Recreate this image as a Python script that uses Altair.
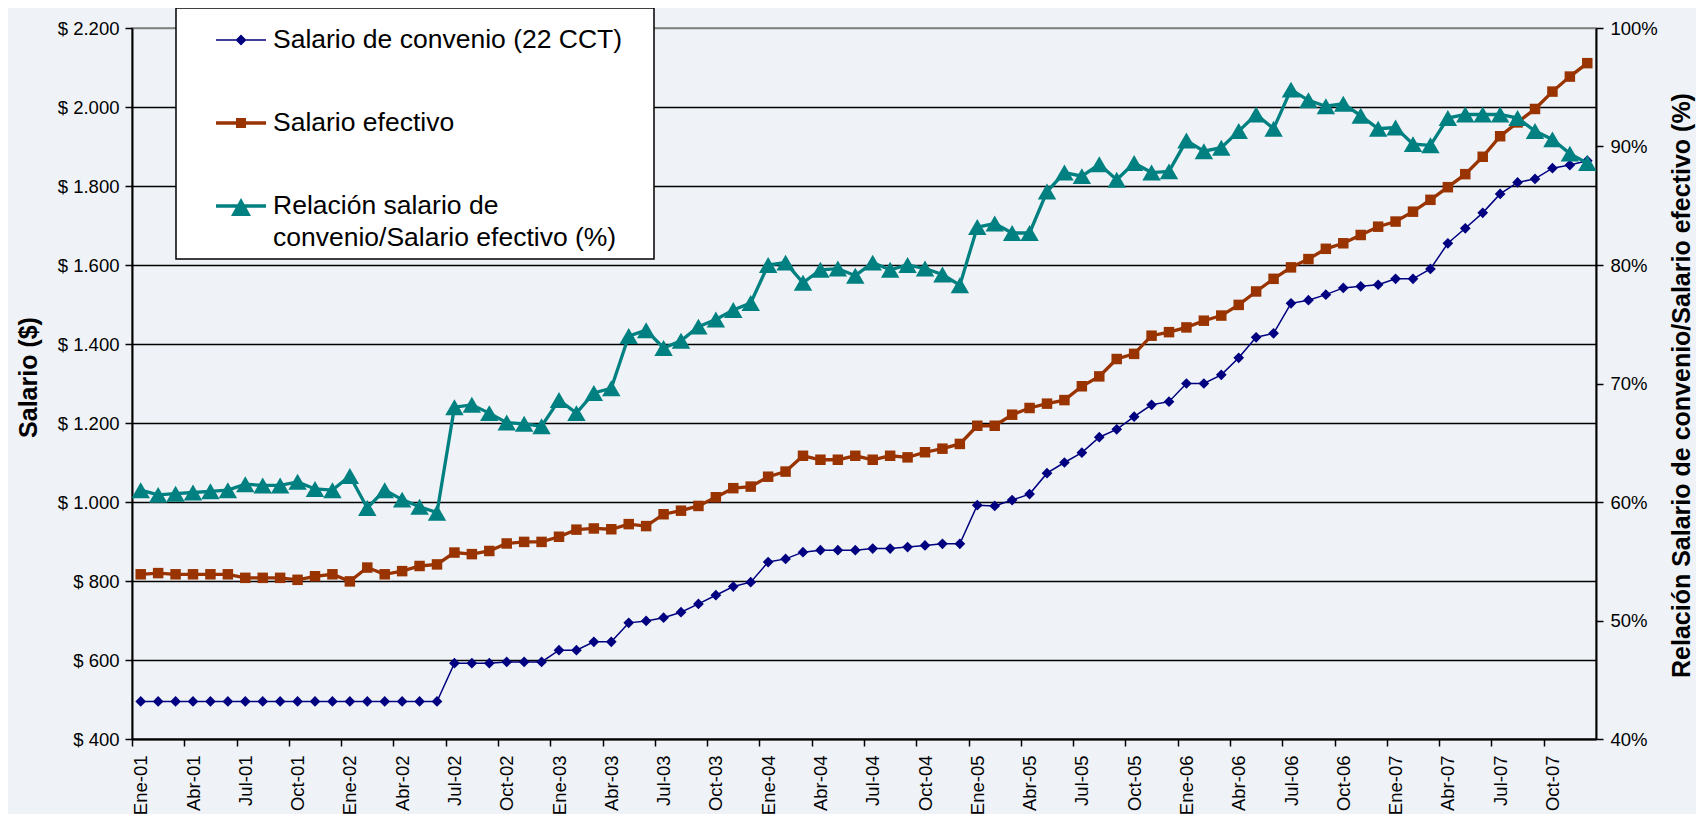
import altair as alt
import pandas as pd

# ---------------- data ----------------
month_names = ["Ene", "Feb", "Mar", "Abr", "May", "Jun",
               "Jul", "Ago", "Sep", "Oct", "Nov", "Dic"]
years = ["01", "02", "03", "04", "05", "06", "07"]
months = [f"{m}-{y}" for y in years for m in month_names]
tick_labels = [f"{m}-{y}" for y in years for m in ["Ene", "Abr", "Jul", "Oct"]]

salario_convenio = [
    495, 495, 495, 495, 495, 495, 495, 495, 495, 495, 495, 495,
    495, 495, 495, 495, 495, 495, 592, 592, 592, 595, 595, 595,
    625, 625, 646, 646, 694, 699, 707, 721, 742, 764, 786, 797,
    848, 856, 873, 878, 878, 878, 882, 882, 886, 890, 894, 894,
    992, 990, 1005, 1020, 1073, 1100, 1125, 1164, 1184, 1216, 1246, 1254,
    1300, 1300, 1322, 1365, 1417, 1427, 1503, 1511, 1525, 1542, 1546, 1550,
    1565, 1565, 1590, 1655, 1693, 1732, 1780, 1809, 1818, 1845, 1853, 1864,
]
salario_efectivo = [
    817, 820, 817, 817, 817, 817, 808, 808, 808, 803, 812, 817,
    799, 834, 817, 825, 838, 842, 872, 868, 876, 895, 899, 899,
    912, 930, 933, 931, 944, 939, 969, 978, 990, 1012, 1035, 1039,
    1064, 1077, 1117, 1107, 1107, 1117, 1107, 1117, 1113, 1126, 1135, 1147,
    1193, 1193, 1221, 1238, 1249, 1258, 1293, 1318, 1362, 1375, 1421, 1430,
    1442, 1459, 1472, 1499, 1533, 1565, 1594, 1615, 1641, 1655, 1676, 1697,
    1710, 1735, 1765, 1797, 1830, 1874, 1926, 1961, 1995, 2039, 2077, 2111,
]
relacion = [
    61.0, 60.6, 60.7, 60.8, 60.9, 61.0, 61.5, 61.4, 61.4, 61.7, 61.1, 61.0,
    62.2, 59.5, 61.0, 60.2, 59.6, 59.1, 68.0, 68.2, 67.5, 66.7, 66.6, 66.4,
    68.6, 67.5, 69.2, 69.6, 74.0, 74.5, 73.0, 73.6, 74.8, 75.4, 76.2, 76.8,
    80.0, 80.2, 78.5, 79.6, 79.7, 79.1, 80.2, 79.6, 80.0, 79.7, 79.2, 78.3,
    83.2, 83.5, 82.7, 82.7, 86.2, 87.8, 87.5, 88.5, 87.2, 88.6, 87.8, 87.9,
    90.5, 89.6, 89.9, 91.3, 92.7, 91.5, 94.8, 93.9, 93.4, 93.6, 92.6, 91.5,
    91.6, 90.2, 90.1, 92.4, 92.7, 92.7, 92.7, 92.4, 91.3, 90.6, 89.4, 88.6,
]

series_names = [
    "Salario de convenio (22 CCT)",
    "Salario efectivo",
    "Relación salario de convenio/Salario efectivo (%)",
]
series_colors = ["#000080", "#993300", "#008080"]

df = pd.DataFrame({
    "idx": list(range(len(months))),
    "mes": months,
    "conv": salario_convenio,
    "efec": salario_efectivo,
    "rel": relacion,
})
legend_df = pd.DataFrame({"serie": series_names})

# ---------------- styling ----------------
FONT = "Liberation Sans"
W, H = 1464, 711
band = W / len(months)

x_enc = alt.X(
    "idx:Q",
    scale=alt.Scale(domain=[-0.5, len(months) - 0.5], nice=False, zero=False),
    axis=alt.Axis(
        values=[k * 3 - 0.5 for k in range(len(tick_labels))],
        labelExpr=f"{tick_labels}[round((datum.value + 0.5) / 3)]",
        labelAngle=270,
        labelOffset=band / 2,
        labelFontSize=18.5,
        labelColor="#000000",
        labelPadding=9,
        labelFlush=False,
        labelOverlap=False,
        tickSize=7,
        tickWidth=1.5,
        tickColor="#000000",
        domainColor="#000000",
        domainWidth=2,
        grid=False,
        title=None,
    ),
)

left_axis = alt.Axis(
    values=list(range(400, 2201, 200)),
    labelExpr="'$ ' + replace(format(datum.value, ','), ',', '.')",
    labelFontSize=18.5,
    labelColor="#000000",
    labelPadding=6,
    tickSize=7,
    tickWidth=1.5,
    tickColor="#000000",
    domainColor="#000000",
    domainWidth=2,
    grid=True,
    gridColor={"condition": {"test": "datum.value >= 2200", "value": "#808080"},
               "value": "#000000"},
    gridWidth=1.4,
    title="Salario ($)",
    titleFontSize=25,
    titleFontWeight="bold",
    titleColor="#000000",
    titleAngle=270,
    titleX=-104,
    titleY=349,
    titleAlign="center",
    titleBaseline="middle",
)
left_scale = alt.Scale(domain=[400, 2200], nice=False, zero=False)

right_axis = alt.Axis(
    orient="right",
    values=list(range(40, 101, 10)),
    labelExpr="datum.value + '%'",
    labelFontSize=18.5,
    labelColor="#000000",
    labelPadding=7,
    tickSize=7,
    tickWidth=1.5,
    tickColor="#000000",
    domainColor="#000000",
    domainWidth=2,
    grid=False,
    title="Relación Salario de convenio/Salario efectivo (%)",
    titleFontSize=25,
    titleFontWeight="bold",
    titleColor="#000000",
    titleAngle=270,
    titleX=85,
    titleY=357,
    titleAlign="center",
    titleBaseline="middle",
)
right_scale = alt.Scale(domain=[40, 100], nice=False, zero=False)

base = alt.Chart(df)

line_conv = base.mark_line(color=series_colors[0], strokeWidth=1.5).encode(
    x=x_enc, y=alt.Y("conv:Q", scale=left_scale, axis=left_axis))
pts_conv = base.mark_point(filled=True, shape="diamond", size=115, opacity=1,
                           color=series_colors[0]).encode(
    x=x_enc, y=alt.Y("conv:Q", scale=left_scale, axis=left_axis))
line_efec = base.mark_line(color=series_colors[1], strokeWidth=3.3).encode(
    x=x_enc, y=alt.Y("efec:Q", scale=left_scale, axis=left_axis))
pts_efec = base.mark_point(filled=True, shape="square", size=110, opacity=1,
                           color=series_colors[1]).encode(
    x=x_enc, y=alt.Y("efec:Q", scale=left_scale, axis=left_axis))

legend_shapes = [
    "M-1,-0.03H1V0.03H-1Z M0,-0.22L0.22,0L0,0.22L-0.22,0Z",
    "M-1,-0.066H1V0.066H-1Z M-0.2,-0.2H0.2V0.2H-0.2Z",
    "M-1,-0.066H1V0.066H-1Z M0,-0.32L0.4,0.4H-0.4Z",
]
multi = ("datum.label == '" + series_names[2] + "' ? "
         "['Relación salario de', 'convenio/Salario efectivo (%)'] : datum.label")

legend_layer = alt.Chart(legend_df).mark_point(
    filled=True, strokeWidth=0, opacity=1
).encode(
    color=alt.Color("serie:N",
                    scale=alt.Scale(domain=series_names, range=series_colors),
                    legend=alt.Legend(
                        title="\u00a0", titleOrient="right", titlePadding=25,
                        orient="none", legendX=44, legendY=-20,
                        fillColor="#ffffff", strokeColor="#000000",
                        padding=7, symbolOffset=33, labelOffset=7,
                        symbolSize=2500, symbolStrokeWidth=0, symbolOpacity=1,
                        labelFontSize=26.5, labelColor="#000000", labelLimit=700,
                        labelExpr=multi, rowPadding=44, labelFont=FONT,
                    )),
    shape=alt.Shape("serie:N",
                    scale=alt.Scale(domain=series_names, range=legend_shapes)),
).transform_filter("false")

line_rel = base.mark_line(color=series_colors[2], strokeWidth=3.3).encode(
    x=x_enc, y=alt.Y("rel:Q", scale=right_scale, axis=right_axis))
pts_rel = base.mark_point(filled=True, shape="triangle-up", size=340, opacity=1,
                          color=series_colors[2]).encode(
    x=x_enc, y=alt.Y("rel:Q", scale=right_scale, axis=right_axis))

left = alt.layer(line_conv, pts_conv, line_efec, pts_efec, legend_layer)
right = alt.layer(line_rel, pts_rel)

chart = alt.layer(left, right).resolve_scale(y="independent").properties(
    width=W, height=H,
    padding={"left": 124, "top": 20, "right": 100, "bottom": 75},
    autosize=alt.AutoSizeParams(type="none"),
    background="#eff3f7",
).configure(
    font=FONT, style={"guide-label": {"lineHeight": 32}}
).configure_view(
    fill="#ffffff", stroke="#808080", strokeWidth=1.5
).configure_legend(strokeWidth=1.5)

chart.save("out.html", embed_options={"renderer": "svg", "actions": False})
